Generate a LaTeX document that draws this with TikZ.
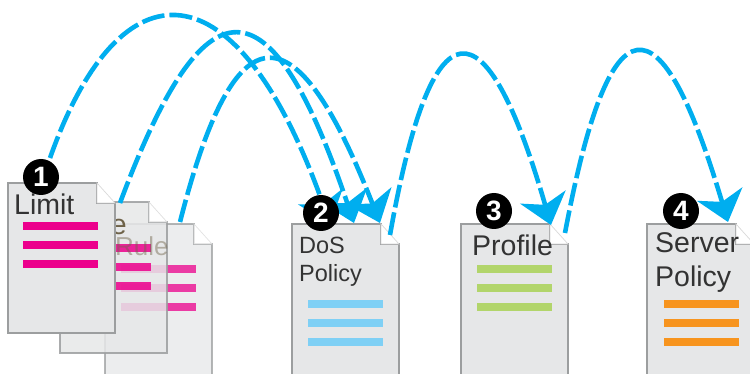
\documentclass[tikz,border=0pt]{standalone}
\usepackage{fontspec}
\usepackage{xcolor}
\usepackage{tikz}
\usetikzlibrary{arrows.meta}
\setmainfont{Liberation Sans}

\definecolor{hopblue}{HTML}{00AEEF}
\definecolor{sheetgray}{HTML}{E6E7E8}
\definecolor{rimgray}{HTML}{9C9E9F}
\definecolor{barpink}{HTML}{EC008C}
\definecolor{barblue}{HTML}{7FD0F5}
\definecolor{bargreen}{HTML}{B2D56B}
\definecolor{barorange}{HTML}{F7941E}
\definecolor{fadedtext}{HTML}{6E6248}

% left, top, bottom, bar colour, bar left, first bar top, opacity
\newcommand{\policysheet}[7]{
    \begin{scope}[shift={(#1,#2)},opacity=#7]
        \path[sheet] (0,0) -- (89,0) -- (89,20) -- (107,20) -- (107,#3) -- (0,#3) -- cycle;
        \path[foldtip] (89,0) -- (107,20) -- (89,20) -- cycle;
        \fill[#4] (#5,#6) rectangle ++(75,8);
        \fill[#4] (#5,#6+19) rectangle ++(75,8);
        \fill[#4] (#5,#6+38) rectangle ++(75,8);
    \end{scope}
}

\begin{document}
\begin{tikzpicture}[x=1pt,y=-1pt,
    sheet/.style={fill=sheetgray, draw=rimgray, line width=1.2pt},
    foldtip/.style={fill=white, draw=black!15, line width=.7pt},
    badge/.style={circle, fill=black, text=white, inner sep=0pt, minimum size=36pt, font=\fontsize{28}{28}\selectfont\bfseries},
    biglabel/.style={anchor=base west, inner sep=0pt, text=black!80, font=\fontsize{28.5}{28.5}\selectfont},
    smalllabel/.style={anchor=base west, inner sep=0pt, text=black!80, font=\fontsize{23.5}{23.5}\selectfont},
    hop/.style={hopblue, line width=4.6pt, dash pattern=on 23pt off 5pt, -{Stealth[length=29pt,width=47pt,inset=8pt]}}]
            \useasboundingbox (0,0) rectangle (750,374);
            \clip (0,0) rectangle (750,374);

            \policysheet{105}{224}{170}{barpink}{16}{41}{.75}
            \policysheet{60}{202}{151}{barpink}{16}{42}{.85}
            \node[biglabel, text=fadedtext, opacity=.45, font=\fontsize{26}{26}\selectfont] (RuleB) at (115,256) {Rule};
            \node[biglabel, text=fadedtext] (RuleA) at (68,235) {Rule};
            \policysheet{8}{183}{150}{barpink}{15}{39.5}{1}
            \node[biglabel] (Limit) at (14,215) {Limit};

            \policysheet{292}{224}{170}{barblue}{16}{76}{1}
            \node[smalllabel] (DoS) at (299,254) {DoS};
            \node[smalllabel] (DoSPolicy) at (299,282) {Policy};

            \policysheet{461}{224}{170}{bargreen}{16}{41}{1}
            \node[biglabel] (Profile) at (472,256) {Profile};

            \policysheet{647}{224}{170}{barorange}{17}{76}{1}
            \node[biglabel] (Server) at (655,253) {Server};
            \node[biglabel] (ServerPolicy) at (655,287) {Policy};

            \coordinate (LimitOut) at (50,158);
            \coordinate (RuleAOut) at (120,203);
            \coordinate (RuleBOut) at (180,222);
            \coordinate (DoSOut) at (390,235);
            \coordinate (ProfileOut) at (565,233);
            \coordinate (DoSInA) at (330,224);
            \coordinate (DoSInB) at (354,223);
            \coordinate (DoSInC) at (380,223);
            \coordinate (ProfileIn) at (551,225);
            \coordinate (ServerIn) at (728,222);

            \draw[hop] (LimitOut) .. controls (120,-40) and (237,-40) .. (DoSInA);
            \draw[hop] (RuleAOut) .. controls (205,-25) and (270,-25) .. (DoSInB);
            \draw[hop] (RuleBOut) .. controls (235,6) and (295,6) .. (DoSInC);
            \draw[hop] (DoSOut) .. controls (432,-2) and (485,-2) .. (ProfileIn);
            \draw[hop] (ProfileOut) .. controls (610,-6) and (660,-6) .. (ServerIn);

            \node[badge] (One) at (41,177) {1};
            \node[badge] (Two) at (321,213) {2};
            \node[badge] (Three) at (494,211) {3};
            \node[badge] (Four) at (681,211) {4};
\end{tikzpicture}
\end{document}
